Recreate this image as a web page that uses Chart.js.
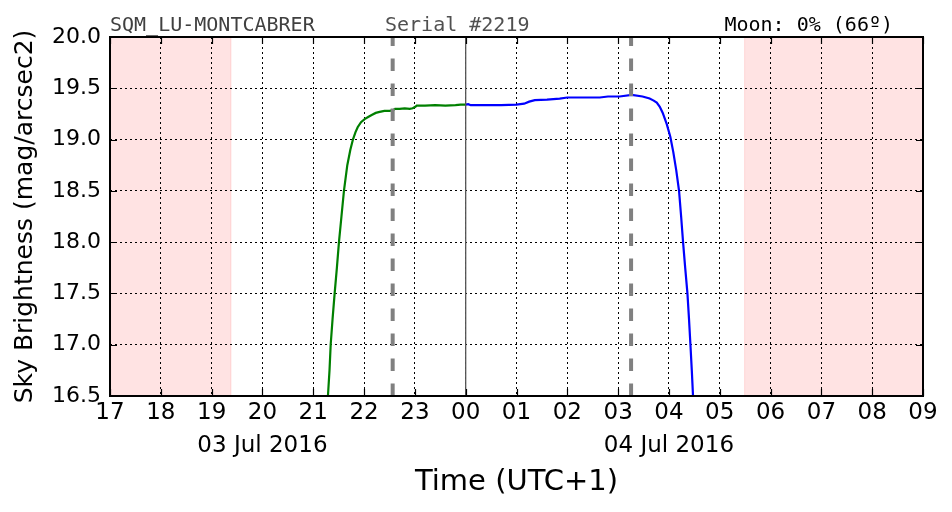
<!DOCTYPE html>
<html>
<head>
<meta charset="utf-8">
<script src="https://cdn.jsdelivr.net/npm/chart.js@4.4.1/dist/chart.umd.min.js"></script>
<style>
html,body{margin:0;padding:0;background:#fff;}
#c{display:block;}
</style>
</head>
<body>
<canvas id="c" width="952" height="512" style="width:952px;height:512px"></canvas>
<script>
// Time axis: hours relative to 00:00 on 04 Jul 2016 (UTC+1). 17:00 = -7, 09:00 = +9
const xRange = [-7, 9];
const yRange = [16.5, 20.0];

// Evening series (green), [hour, mag/arcsec2]
const eveningTimes = [-2.711,-2.68,-2.657,-2.62,-2.579,-2.535,-2.494,-2.445,-2.396,-2.33,-2.27,-2.219,-2.17,-2.126,-2.06,-1.988,-1.92,-1.85,-1.77,-1.693,-1.6,-1.5,-1.437,-1.39,-1.3,-1.2,-1.1,-1.043,-0.99,-0.965,-0.8,-0.6,-0.4,-0.2,-0.1,0];
const eveningValues = [16.5,16.75,17.0,17.25,17.5,17.75,18.0,18.25,18.5,18.75,18.9,19.0,19.07,19.12,19.17,19.20,19.22,19.24,19.26,19.27,19.28,19.28,19.285,19.30,19.30,19.305,19.30,19.305,19.32,19.33,19.33,19.335,19.33,19.335,19.34,19.34];

// Morning series (blue)
const morningTimes = [0,0.05,0.1,0.4,0.7,1.0,1.15,1.25,1.36,1.6,1.85,2.0,2.3,2.64,2.8,3.03,3.27,3.48,3.62,3.70,3.76,3.82,3.878,3.957,4.026,4.085,4.144,4.199,4.24,4.278,4.32,4.364,4.395,4.423,4.45,4.474];
const morningValues = [19.34,19.345,19.335,19.335,19.335,19.34,19.35,19.37,19.385,19.39,19.40,19.41,19.41,19.41,19.42,19.42,19.435,19.42,19.40,19.38,19.36,19.32,19.26,19.15,19.03,18.88,18.70,18.5,18.25,18.0,17.75,17.5,17.25,17.0,16.75,16.5];

// Twilight (pink) bands and astronomical markers
const twilightBands = [[-7, -4.62], [5.49, 9]];
const markerTimes = [-1.437, 3.255];   // grey dashed lines
const midnight = [0];

// Tick labels
const dateLabels = {"-4": "03 Jul 2016", "4": "04 Jul 2016"};
const headerLeft = "SQM_LU-MONTCABRER";
const headerMid = "Serial #2219";
const headerRight = "Moon: 0% (66º)";
const xTitle = "Time (UTC+1)";
const yTitle = "Sky Brightness (mag/arcsec2)";

function zip(xs, ys){ return xs.map((x,i)=>({x:x, y:ys[i]})); }
function vline(x){ return [{x:x, y:yRange[0]}, {x:x, y:yRange[1]}]; }
function hourLabel(v){ const h = ((Math.round(v) % 24) + 24) % 24; return (h<10?'0':'') + h; }

const datasets = [
  {data: zip(eveningTimes, eveningValues), borderColor:'#008000', borderWidth:2.2, pointRadius:0, order:2, tension:0},
  {data: zip(morningTimes, morningValues), borderColor:'#0000ff', borderWidth:2.2, pointRadius:0, order:2, tension:0},
];
markerTimes.forEach(t => datasets.push({data: vline(t), borderColor:'#808080', borderWidth:4, borderDash:[12.5,12.5], pointRadius:0, order:1, borderCapStyle:'butt'}));
midnight.forEach(t => datasets.push({data: vline(t), borderColor:'#555555', borderWidth:1.3, pointRadius:0, order:1}));

const decor = {
  id: 'decor',
  beforeDraw(chart){
    const {ctx, chartArea:a, scales:{x}} = chart;
    ctx.save();
    twilightBands.forEach(b => {
      const x0 = x.getPixelForValue(b[0]), x1 = x.getPixelForValue(b[1]);
      ctx.fillStyle = 'rgba(255,0,0,0.11)';
      ctx.fillRect(x0, a.top, x1-x0, a.bottom-a.top);
      ctx.strokeStyle = 'rgba(255,0,0,0.12)';
      ctx.lineWidth = 1;
      ctx.beginPath();
      [x0, x1].forEach(px => { ctx.moveTo(px, a.top); ctx.lineTo(px, a.bottom); });
      ctx.stroke();
    });
    ctx.restore();
  },
  afterDraw(chart){
    const {ctx, chartArea:a, scales:{x, y}} = chart;
    ctx.save();
    // inward ticks on all four sides
    ctx.strokeStyle = '#000';
    ctx.lineWidth = 1.2;
    ctx.beginPath();
    x.ticks.forEach(t => {
      const px = Math.round(x.getPixelForValue(t.value)) + 0.5;
      ctx.moveTo(px, a.bottom); ctx.lineTo(px, a.bottom-7);
      ctx.moveTo(px, a.top); ctx.lineTo(px, a.top+7);
    });
    y.ticks.forEach(t => {
      const py = Math.round(y.getPixelForValue(t.value)) + 0.5;
      ctx.moveTo(a.left, py); ctx.lineTo(a.left+7, py);
      ctx.moveTo(a.right, py); ctx.lineTo(a.right-7, py);
    });
    ctx.stroke();
    // frame
    ctx.lineWidth = 2;
    ctx.strokeRect(a.left, a.top, a.right-a.left, a.bottom-a.top);
    // header texts
    ctx.font = "20px 'DejaVu Sans Mono', monospace";
    ctx.textBaseline = 'alphabetic';
    ctx.fillStyle = '#404040';
    ctx.textAlign = 'left';
    ctx.fillText(headerLeft, a.left, 31);
    ctx.fillStyle = '#505050';
    ctx.fillText(headerMid, 385, 31);
    ctx.fillStyle = '#000';
    ctx.textAlign = 'right';
    ctx.fillText(headerRight, 893, 31);
    ctx.restore();
  }
};

new Chart(document.getElementById('c'), {
  type: 'line',
  data: {datasets: datasets},
  plugins: [decor],
  options: {
    responsive: false,
    animation: false,
    devicePixelRatio: 1,
    layout: {padding: {top: 37, right: 29, left: 0, bottom: 0}},
    plugins: {legend: {display:false}, tooltip: {enabled:false}},
    elements: {line: {fill:false}},
    scales: {
      x: {
        type: 'linear', min: xRange[0], max: xRange[1],
        afterFit(s){ s.height = 116; },
        grid: {color:'#000', lineWidth:1, drawTicks:false},
        border: {display:false, dash:[2,3]},
        ticks: {
          stepSize: 1, padding: 0, maxRotation: 0, autoSkip: false,
          color: '#000',
          font: {family: "'DejaVu Sans', sans-serif", size: 23, lineHeight: 1.45},
          callback(v){ const l = hourLabel(v); const d = dateLabels[String(Math.round(v))]; return d ? [l, d] : l; }
        },
        title: {display:true, text: xTitle, color:'#000', font:{family:"'DejaVu Sans', sans-serif", size:29}, padding:{top:0, bottom:12.6}}
      },
      y: {
        type: 'linear', min: yRange[0], max: yRange[1],
        afterFit(s){ s.width = 110; },
        grid: {color:'#000', lineWidth:1, drawTicks:false},
        border: {display:false, dash:[2,3]},
        ticks: {
          stepSize: 0.5, padding: 9, color:'#000',
          font: {family: "'DejaVu Sans', sans-serif", size: 22},
          callback(v){ return v.toFixed(1); }
        },
        title: {display:true, text: yTitle, color:'#000', font:{family:"'DejaVu Sans', sans-serif", size:25}, padding:{top:10, bottom:0}}
      }
    }
  }
});
</script>
</body>
</html>
